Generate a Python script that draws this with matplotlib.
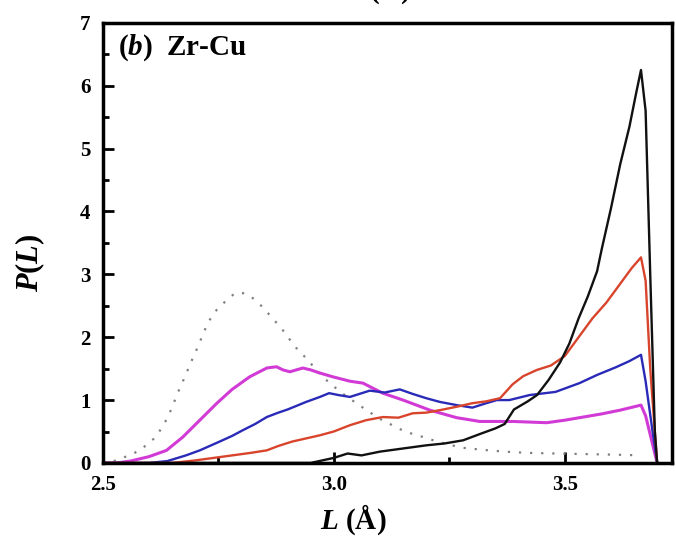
import matplotlib
matplotlib.use("Agg")
import matplotlib.pyplot as plt
from matplotlib.ticker import MultipleLocator

# ---- data ----
black_x = [2.50, 2.95, 3.00, 3.03, 3.06, 3.10, 3.14, 3.20, 3.24, 3.28, 3.32, 3.35, 3.37, 3.39,
           3.42, 3.44, 3.465, 3.49, 3.51, 3.53, 3.55, 3.57, 3.58, 3.60, 3.62, 3.64, 3.655,
           3.665, 3.675, 3.685, 3.695, 3.70]
black_y = [0.00, 0.00, 0.08, 0.15, 0.12, 0.18, 0.22, 0.28, 0.31, 0.36, 0.47, 0.55, 0.62, 0.85,
           0.98, 1.08, 1.32, 1.60, 1.90, 2.30, 2.65, 3.05, 3.40, 4.05, 4.75, 5.35, 5.90,
           6.25, 5.60, 3.00, 0.50, 0.00]

red_x = [2.50, 2.65, 2.70, 2.75, 2.78, 2.82, 2.855, 2.88, 2.91, 2.94, 2.97, 3.00, 3.035, 3.07,
         3.106, 3.14, 3.171, 3.20, 3.23, 3.27, 3.30, 3.33, 3.36, 3.387, 3.41, 3.44, 3.47,
         3.50, 3.53, 3.56, 3.59, 3.62, 3.645, 3.665, 3.675, 3.685, 3.70]
red_y = [0.00, 0.00, 0.04, 0.09, 0.12, 0.16, 0.20, 0.27, 0.34, 0.39, 0.44, 0.50, 0.60, 0.68,
         0.73, 0.72, 0.79, 0.80, 0.84, 0.90, 0.95, 0.98, 1.03, 1.25, 1.38, 1.48, 1.55,
         1.70, 2.00, 2.30, 2.55, 2.85, 3.10, 3.27, 2.90, 1.50, 0.00]

blue_x = [2.50, 2.60, 2.64, 2.68, 2.71, 2.753, 2.78, 2.803, 2.83, 2.855, 2.88, 2.90, 2.94,
          2.97, 2.99, 3.01, 3.035, 3.078, 3.11, 3.143, 3.17, 3.20, 3.23, 3.266, 3.30, 3.33,
          3.353, 3.38, 3.424, 3.48, 3.532, 3.57, 3.61, 3.64, 3.665, 3.675, 3.69, 3.70]
blue_y = [0.00, 0.00, 0.03, 0.12, 0.20, 0.34, 0.43, 0.52, 0.62, 0.73, 0.80, 0.85, 0.97,
          1.05, 1.11, 1.08, 1.05, 1.15, 1.12, 1.17, 1.10, 1.03, 0.97, 0.92, 0.88, 0.95,
          1.00, 1.00, 1.08, 1.13, 1.27, 1.40, 1.52, 1.62, 1.72, 1.30, 0.50, 0.00]

mag_x = [2.50, 2.53, 2.56, 2.60, 2.638, 2.673, 2.71, 2.747, 2.78, 2.818, 2.855, 2.876, 2.89,
         2.905, 2.933, 2.95, 2.97, 2.998, 3.035, 3.063, 3.106, 3.15, 3.208, 3.266, 3.316,
         3.387, 3.461, 3.50, 3.532, 3.58, 3.62, 3.665, 3.675, 3.69, 3.70]
mag_y = [0.00, 0.00, 0.03, 0.10, 0.20, 0.41, 0.68, 0.95, 1.17, 1.37, 1.51, 1.53, 1.48,
         1.45, 1.51, 1.48, 1.43, 1.37, 1.30, 1.27, 1.11, 1.00, 0.84, 0.72, 0.66,
         0.66, 0.64, 0.68, 0.72, 0.78, 0.84, 0.92, 0.75, 0.30, 0.00]

gray_x = [2.50, 2.53, 2.569, 2.587, 2.613, 2.628, 2.641, 2.652, 2.662, 2.673, 2.684, 2.695,
          2.706, 2.716, 2.727, 2.742, 2.764, 2.786, 2.807, 2.825, 2.846, 2.865, 2.887, 2.905,
          2.922, 2.944, 2.965, 2.991, 3.02, 3.045, 3.071, 3.10, 3.132, 3.154, 3.18, 3.20,
          3.223, 3.25, 3.28, 3.32, 3.37, 3.42, 3.48, 3.55, 3.62, 3.665]
gray_y = [0.00, 0.04, 0.16, 0.24, 0.40, 0.56, 0.73, 0.92, 1.11, 1.29, 1.48, 1.67,
          1.85, 2.03, 2.22, 2.40, 2.56, 2.70, 2.70, 2.62, 2.48, 2.32, 2.14, 1.96,
          1.80, 1.64, 1.45, 1.27, 1.10, 0.97, 0.84, 0.70, 0.58, 0.50, 0.44, 0.40,
          0.34, 0.29, 0.24, 0.21, 0.18, 0.16, 0.15, 0.14, 0.13, 0.12]

x_ticks = [2.5, 3.0, 3.5]
x_tick_labels = ["2.5", "3.0", "3.5"]
y_ticks = [0, 1, 2, 3, 4, 5, 6, 7]

plt.rcParams['font.family'] = ['Liberation Serif', 'DejaVu Serif']
plt.rcParams['font.weight'] = 'bold'
plt.rcParams['mathtext.fontset'] = 'custom'
plt.rcParams['mathtext.it'] = 'Liberation Serif:italic:bold'
plt.rcParams['mathtext.rm'] = 'Liberation Serif:bold'

fig = plt.figure(figsize=(6.76, 5.44), dpi=100)
ax = fig.add_axes([0.152, 0.149, 0.842, 0.809])

ax.plot(gray_x, gray_y, color='#808080', lw=1.6, linestyle=(0, (1, 4)))
ax.plot(mag_x, mag_y, color='#d23ad6', lw=2.2)
ax.plot(blue_x, blue_y, color='#2a2ab8', lw=1.7)
ax.plot(red_x, red_y, color='#d8452c', lw=1.7)
ax.plot(black_x, black_y, color='#111111', lw=1.7)

ax.set_xlim(2.5, 3.732)
ax.set_ylim(0, 7)
ax.set_xticks(x_ticks)
ax.set_xticklabels(x_tick_labels)
ax.set_yticks(y_ticks)
ax.xaxis.set_minor_locator(MultipleLocator(0.25))
ax.yaxis.set_minor_locator(MultipleLocator(0.5))
ax.tick_params(which='major', direction='in', length=8, width=2, labelsize=15, pad=9)
ax.tick_params(which='minor', direction='in', length=4, width=2)
ax.tick_params(top=False, right=False, which='both')
for s in ax.spines.values():
    s.set_linewidth(2.5)

ax.set_xlabel(r'$L$ (Å)', fontsize=21, fontweight='bold')
ax.xaxis.set_label_coords(0.44, -0.13)
ax.xaxis.label.set_va('center')
ax.set_ylabel(r'$P$($L$)', fontsize=22, fontweight='bold')
ax.yaxis.set_label_coords(-0.128, 0.455)
ax.yaxis.label.set_va('center')

ax.text(0.027, 0.978, r'($b$)  Zr-Cu', transform=ax.transAxes, fontsize=21,
        fontweight='bold', va='top', ha='left')

# cut-off label of the panel above
fig.text(0.558, 1.02, r'$L$ (Å)', fontsize=21, fontweight='bold', ha='center', va='center')

fig.savefig('out.png', dpi=100)
